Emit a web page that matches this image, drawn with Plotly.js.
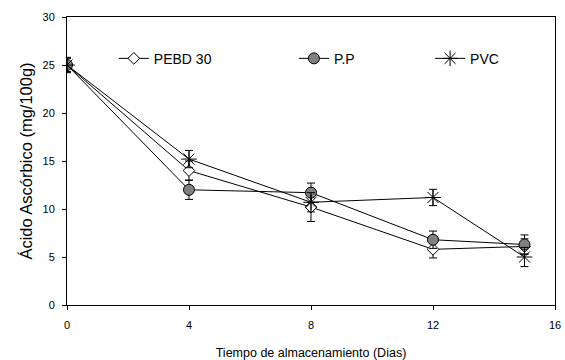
<!DOCTYPE html>
<html>
<head>
<meta charset="utf-8">
<script src="https://cdn.plot.ly/plotly-3.0.1.min.js"></script>
<style>html,body{margin:0;padding:0;background:#fff;}#chart{width:565px;height:360px;}</style>
</head>
<body>
<div id="chart"></div>
<script>
const days = [0, 4, 8, 12, 15];
const pebd = [25.0, 14.0, 10.2, 5.8, 6.1];
const pebdErr = [0.7, 1.0, 1.5, 0.9, 0.8];
const pp = [25.0, 12.0, 11.7, 6.8, 6.3];
const ppErr = [0.7, 1.0, 1.0, 0.9, 1.0];
const pvc = [25.0, 15.2, 10.7, 11.2, 5.0];
const pvcErr = [0.8, 0.9, 1.0, 0.85, 1.0];
const names = ["PEBD 30", "P.P", "PVC"];
const xTicks = [0, 4, 8, 12, 16];
const yTicks = [0, 5, 10, 15, 20, 25, 30];

const eb = (arr) => ({type: 'data', array: arr, visible: true, color: '#000', thickness: 1, width: 4});
const font = {family: 'Liberation Sans, Arial, sans-serif', color: '#000'};

const traces = [
  {x: days, y: pebd, error_y: eb(pebdErr), name: names[0], mode: 'lines+markers', legend: 'legend',
   line: {color: '#000', width: 1},
   marker: {symbol: 'diamond', size: 9, color: '#fff', line: {color: '#000', width: 1}}},
  {x: days, y: pp, error_y: eb(ppErr), name: names[1], mode: 'lines+markers', legend: 'legend2',
   line: {color: '#000', width: 1},
   marker: {symbol: 'circle', size: 11, color: '#808080', line: {color: '#000', width: 1}}},
  {x: days, y: pvc, error_y: eb(pvcErr), name: names[2], mode: 'lines+markers', legend: 'legend3',
   line: {color: '#000', width: 1},
   marker: {symbol: 'asterisk-open', size: 13, color: '#000', line: {color: '#000', width: 1}}}
];

const legBase = {orientation: 'h', yanchor: 'middle', xanchor: 'left', y: 0.855,
  bgcolor: 'rgba(0,0,0,0)', font: Object.assign({}, font, {size: 14}), itemwidth: 30};

const layout = {
  width: 565, height: 360,
  margin: {l: 67, r: 10, t: 17, b: 55},
  paper_bgcolor: '#fff', plot_bgcolor: '#fff',
  font: font,
  showlegend: true,
  legend: Object.assign({}, legBase, {x: 0.096}),
  legend2: Object.assign({}, legBase, {x: 0.465}),
  legend3: Object.assign({}, legBase, {x: 0.744}),
  xaxis: {range: [0, 16], tickvals: xTicks, ticktext: xTicks.map(String), ticks: 'outside', ticklen: 4,
    tickcolor: '#000', showline: true, linecolor: '#000', linewidth: 1, mirror: true, ticklabelstandoff: 6,
    showgrid: false, zeroline: false, tickfont: Object.assign({}, font, {size: 11}),
    title: {text: 'Tiempo de almacenamiento (Dias)', font: Object.assign({}, font, {size: 12.5}), standoff: 20}},
  yaxis: {range: [0, 30], tickvals: yTicks, ticktext: yTicks.map(String), ticks: 'outside', ticklen: 4,
    tickcolor: '#000', showline: true, linecolor: '#000', linewidth: 1, mirror: true, ticklabelstandoff: 5,
    showgrid: false, zeroline: false, tickfont: Object.assign({}, font, {size: 11}),
    title: {text: 'Ácido Ascórbico (mg/100g)', font: Object.assign({}, font, {size: 16.5}), standoff: 5}}
};

Plotly.newPlot('chart', traces, layout, {displayModeBar: false, staticPlot: true});
</script>
</body>
</html>
